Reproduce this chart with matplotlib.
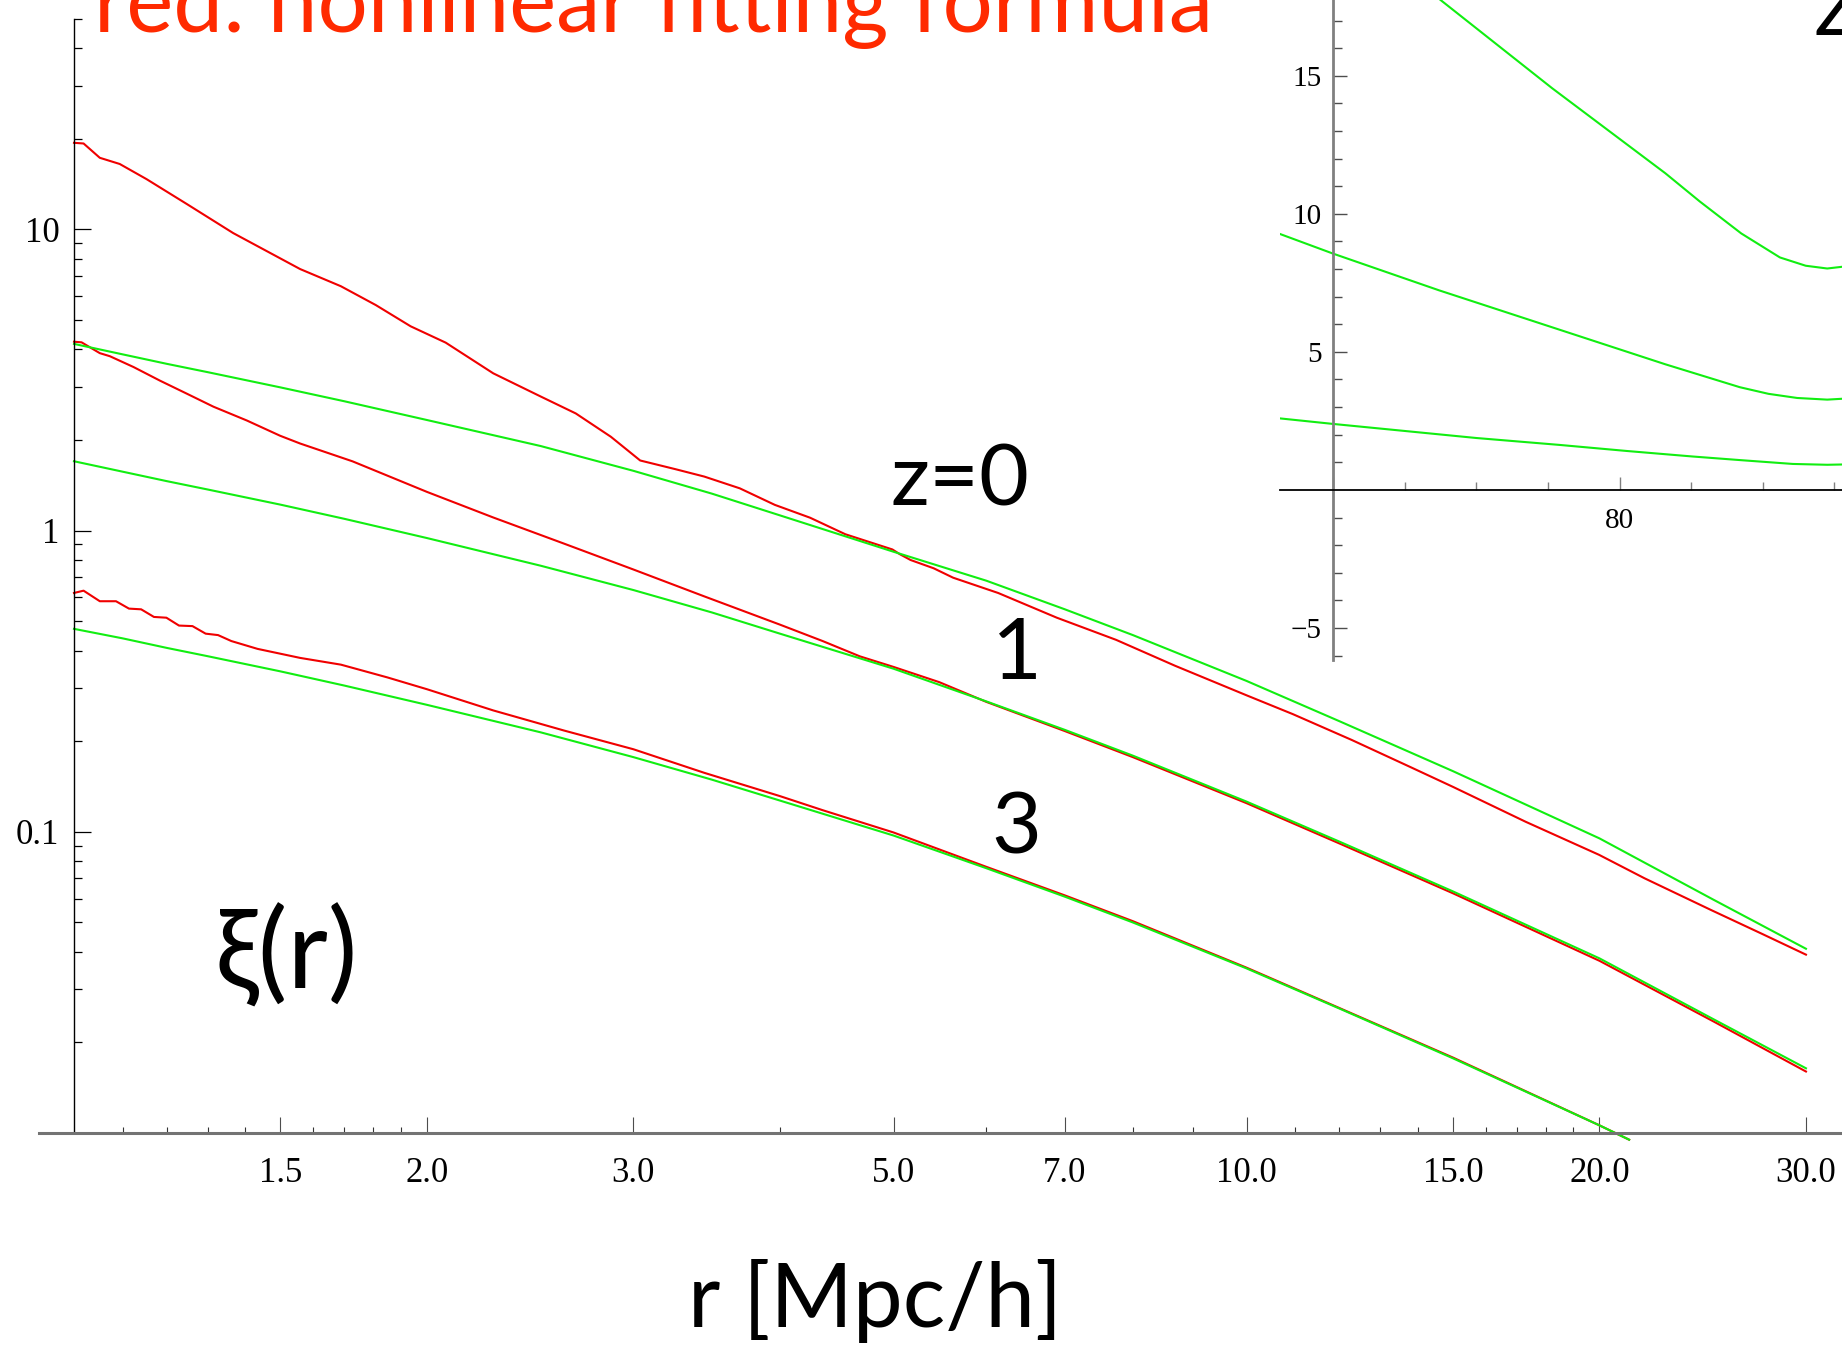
import matplotlib
matplotlib.use("Agg")
import matplotlib.pyplot as plt
from matplotlib.ticker import FixedLocator, FixedFormatter, NullFormatter

plt.rcParams['font.family'] = ['Liberation Serif', 'DejaVu Serif']

# ---- main panel data: xi(r) ----
r_grid = [1.0, 1.1, 1.2, 1.3, 1.5, 1.7, 2.0, 2.5, 3.0, 3.5, 4.0, 5.0, 6.0, 7.0, 8.0,
          10.0, 12.0, 15.0, 20.0, 25.0, 30.0]

fit_z0 = [4.17, 3.85, 3.58, 3.36, 2.99, 2.69, 2.33, 1.91, 1.58, 1.327, 1.124, 0.851,
          0.682, 0.548, 0.450, 0.317, 0.233, 0.159, 0.0951, 0.0596, 0.0409]
fit_z1 = [1.70, 1.57, 1.46, 1.37, 1.22, 1.095, 0.945, 0.765, 0.635, 0.535, 0.455,
          0.348, 0.271, 0.218, 0.179, 0.126, 0.0928, 0.0634, 0.0380, 0.0239, 0.0164]
r_fit_z3 = [1.0, 1.1, 1.2, 1.3, 1.5, 1.7, 2.0, 2.5, 3.0, 3.5, 4.0, 5.0, 6.0, 7.0, 8.0,
            10.0, 12.0, 15.0, 20.0, 21.2]
fit_z3 = [0.472, 0.439, 0.408, 0.383, 0.341, 0.306, 0.264, 0.214, 0.177, 0.149, 0.127,
          0.0972, 0.0757, 0.0609, 0.0500, 0.0352, 0.0259, 0.0177, 0.0106, 0.0095]

r_sim_z0 = [1.0, 1.019, 1.052, 1.094, 1.153, 1.248, 1.367, 1.559, 1.689, 1.809, 1.937,
            2.075, 2.278, 2.50, 2.679, 2.870, 3.040, 3.258, 3.448, 3.697, 3.960, 4.244,
            4.548, 4.989, 5.06, 5.17, 5.41, 5.62, 6.14, 6.89, 7.74, 8.69, 10.0, 10.95,
            12.29, 13.8, 15.0, 17.3, 19.98, 21.85, 24.9, 27.5, 30.0]
sim_z0 = [19.4, 19.3, 17.3, 16.5, 14.7, 12.15, 9.73, 7.39, 6.48, 5.61, 4.77, 4.21, 3.33,
          2.79, 2.45, 2.05, 1.71, 1.60, 1.512, 1.382, 1.218, 1.104, 0.973, 0.866, 0.836,
          0.799, 0.750, 0.698, 0.621, 0.514, 0.434, 0.356, 0.284, 0.246, 0.202, 0.164,
          0.141, 0.108, 0.0839, 0.0701, 0.0550, 0.0459, 0.0391]

r_sim_z1 = [1.0, 1.015, 1.052, 1.073, 1.124, 1.184, 1.248, 1.315, 1.404, 1.499, 1.559,
            1.728, 2.0, 2.278, 2.617, 3.0, 3.448, 4.0, 4.35, 4.68, 5.0, 5.47, 6.0, 7.0,
            8.0, 10.0, 12.0, 15.0, 20.0, 25.0, 30.0]
sim_z1 = [4.24, 4.22, 3.885, 3.795, 3.494, 3.148, 2.85, 2.58, 2.322, 2.066, 1.947, 1.699,
          1.345, 1.106, 0.906, 0.743, 0.605, 0.4875, 0.430, 0.3825, 0.3528, 0.314,
          0.270, 0.216, 0.177, 0.1245, 0.0915, 0.0625, 0.0373, 0.0235, 0.0160]

r_sim_z3 = [1.0, 1.019, 1.052, 1.086, 1.114, 1.141, 1.170, 1.199, 1.229, 1.262, 1.295,
            1.327, 1.362, 1.434, 1.559, 1.689, 1.851, 2.0, 2.278, 2.617, 3.0, 3.448, 4.0,
            4.35, 5.0, 6.0, 7.0, 8.0, 10.0, 12.0, 15.0, 20.0, 21.2]
sim_z3 = [0.621, 0.632, 0.583, 0.583, 0.551, 0.548, 0.517, 0.514, 0.484, 0.482, 0.455,
          0.450, 0.430, 0.405, 0.378, 0.359, 0.3255, 0.2975, 0.253, 0.217, 0.188, 0.157,
          0.1314, 0.118, 0.0995, 0.0765, 0.0615, 0.0505, 0.0354, 0.0260, 0.0178,
          0.0106, 0.0095]

x_major = [1.5, 2.0, 3.0, 5.0, 7.0, 10.0, 15.0, 20.0, 30.0]
x_major_labels = ['1.5', '2.0', '3.0', '5.0', '7.0', '10.0', '15.0', '20.0', '30.0']
x_minor = [1.1, 1.2, 1.3, 1.4, 1.6, 1.7, 1.8, 1.9, 4.0, 6.0, 8.0, 9.0,
           11, 12, 13, 14, 16, 17, 18, 19]
y_major = [0.1, 1, 10]
y_major_labels = ['0.1', '1', '10']
y_minor = [0.02, 0.03, 0.04, 0.05, 0.06, 0.07, 0.08, 0.09,
           0.2, 0.3, 0.4, 0.5, 0.6, 0.7, 0.8, 0.9,
           2, 3, 4, 5, 6, 7, 8, 9, 20, 30, 40, 50]

# ---- inset data (BAO region) ----
ins_top_x = [66.0, 67.5, 75.3, 83.2, 85.6, 88.5, 91.2, 93.0, 94.5, 95.5]
ins_top_y = [18.4, 17.75, 14.55, 11.47, 10.45, 9.29, 8.42, 8.12, 8.02, 8.08]
ins_mid_x = [56.3, 60.0, 67.4, 75.3, 83.2, 88.4, 90.4, 92.4, 94.5, 95.5]
ins_mid_y = [9.27, 8.56, 7.23, 5.89, 4.55, 3.72, 3.48, 3.33, 3.27, 3.30]
ins_bot_x = [56.3, 60.0, 70.0, 75.8, 80.5, 85.1, 88.4, 92.1, 94.5, 95.5]
ins_bot_y = [2.59, 2.39, 1.88, 1.63, 1.41, 1.21, 1.08, 0.94, 0.91, 0.92]

RED = '#f00000'
GREEN = '#11ee11'
W, H = 1842, 1346

fig = plt.figure(figsize=(W / 100, H / 100), dpi=100)

# main axes
ax = fig.add_axes([39 / W, 0.1512, 1 - 39 / W, 0.8347])
ax.set_xscale('log')
ax.set_yscale('log')

for rr, yy in [(r_sim_z0, sim_z0), (r_sim_z1, sim_z1), (r_sim_z3, sim_z3)]:
    ax.plot(rr, yy, color=RED, lw=1.5)
for rr, yy in [(r_grid, fit_z0), (r_grid, fit_z1), (r_fit_z3, fit_z3)]:
    ax.plot(rr, yy, color=GREEN, lw=1.5)

ax.set_xlim(0.9336, 32.2)
ax.set_ylim(0.0093, 50)

ax.spines['top'].set_visible(False)
ax.spines['right'].set_visible(False)
ax.spines['left'].set_position(('data', 1.0))
ax.spines['left'].set_bounds(0.01, 50)
ax.spines['left'].set_linewidth(1.0)
ax.spines['bottom'].set_position(('data', 0.01))
ax.spines['bottom'].set_color('0.45')
ax.spines['bottom'].set_linewidth(2.2)

ax.xaxis.set_major_locator(FixedLocator(x_major))
ax.xaxis.set_major_formatter(FixedFormatter(x_major_labels))
ax.xaxis.set_minor_locator(FixedLocator(x_minor))
ax.xaxis.set_minor_formatter(NullFormatter())
ax.yaxis.set_major_locator(FixedLocator(y_major))
ax.yaxis.set_major_formatter(FixedFormatter(y_major_labels))
ax.yaxis.set_minor_locator(FixedLocator(y_minor))
ax.yaxis.set_minor_formatter(NullFormatter())

ax.tick_params(axis='x', which='major', direction='in', length=11.5, width=0.8,
               color='0.3', pad=17, labelsize=25)
ax.tick_params(axis='x', which='minor', direction='in', length=4.5, width=0.8,
               color='0.2')
ax.tick_params(axis='y', which='major', direction='in', length=12, width=0.9,
               pad=10.5, labelsize=25)
ax.tick_params(axis='y', which='minor', direction='in', length=5.5, width=0.9)

# inset axes
ins = fig.add_axes([1280 / W, 0.5097, 626 / W, 0.4955])
ins.set_facecolor('none')
for xx, yy in [(ins_top_x, ins_top_y), (ins_mid_x, ins_mid_y), (ins_bot_x, ins_bot_y)]:
    ins.plot(xx, yy, color=GREEN, lw=1.5)
ins.set_xlim(56.3, 100)
ins.set_ylim(-6.16, 18)
ins.spines['top'].set_visible(False)
ins.spines['right'].set_visible(False)
ins.spines['left'].set_position(('data', 60))
ins.spines['left'].set_color('0.5')
ins.spines['left'].set_linewidth(2.0)
ins.spines['bottom'].set_position(('data', 0))
ins.spines['bottom'].set_linewidth(1.3)
ins.xaxis.set_major_locator(FixedLocator([60, 80, 100]))
ins.xaxis.set_major_formatter(FixedFormatter(['', '80', '100']))
ins.xaxis.set_minor_locator(FixedLocator([65, 70, 75, 85, 90, 95]))
ins.yaxis.set_major_locator(FixedLocator([-5, 5, 10, 15]))
ins.yaxis.set_major_formatter(FixedFormatter(['\u22125', '5', '10', '15']))
ins.yaxis.set_minor_locator(FixedLocator([-6, -4, -3, -2, -1, 1, 2, 3, 4, 6, 7, 8, 9,
                                          11, 12, 13, 14, 16, 17, 18]))
ins.tick_params(axis='x', which='major', direction='in', length=9.5, width=1.0,
                color='0.5', pad=13, labelsize=21)
ins.tick_params(axis='x', which='minor', direction='in', length=5.8, width=1.0,
                color='0.5')
ins.tick_params(axis='y', which='major', direction='in', length=10, width=1.0,
                color='0.3', pad=8, labelsize=21)
ins.tick_params(axis='y', which='minor', direction='in', length=6.5, width=1.0,
                color='0.3')

# texts
sans = ['Lato', 'DejaVu Sans']


def ftext(px, py, s, **kw):
    fig.text(px / W, 1 - py / H, s, family=sans, **kw)


ftext(94, 32, 'red: nonlinear fitting formula', color='#ff2a00', fontsize=64,
      ha='left', va='baseline')
ftext(960, 505, 'z=0', fontsize=62, ha='center', va='baseline')
ftext(1017, 679, '1', fontsize=62, ha='center', va='baseline')
ftext(1016, 854, '3', fontsize=62, ha='center', va='baseline')
ftext(286, 955, '\u03be(r)', fontsize=80, ha='center', va='center')
ftext(875, 1327, 'r [Mpc/h]', fontsize=64, ha='center', va='baseline')
ftext(1813, 35, 'z', fontsize=62, ha='left', va='baseline')

fig.savefig('out.png', dpi=100)
